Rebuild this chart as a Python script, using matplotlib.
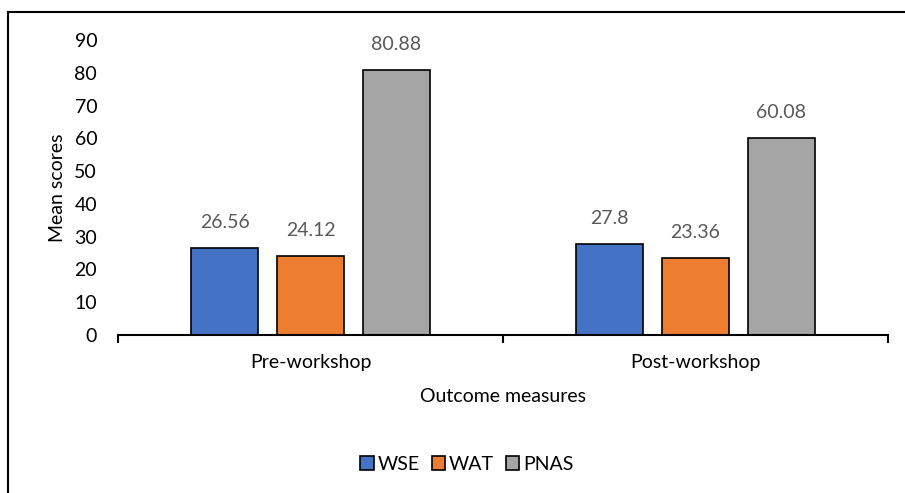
import matplotlib
matplotlib.use("Agg")
import matplotlib.pyplot as plt
import numpy as np
from matplotlib.lines import Line2D
from matplotlib.patches import Patch

categories = ["Pre-workshop", "Post-workshop"]
series = ["WSE", "WAT", "PNAS"]
wse = [26.56, 27.8]
wat = [24.12, 23.36]
pnas = [80.88, 60.08]
labels = [["26.56", "27.8"], ["24.12", "23.36"], ["80.88", "60.08"]]
colors = ["#4472C4", "#ED7D31", "#A5A5A5"]
yticks = [0, 10, 20, 30, 40, 50, 60, 70, 80, 90]

plt.rcParams['font.family'] = ['Lato', 'DejaVu Sans']
FS = 14

fig = plt.figure(figsize=(9.05, 4.93), dpi=100)
ax = fig.add_axes([118/905, 1-335/493, (888-118)/905, (335-40)/493])

x = np.arange(len(categories))
w = 0.174
step = 0.223
for i, (vals, c) in enumerate(zip([wse, wat, pnas], colors)):
    pos = x + (i-1)*step
    ax.bar(pos, vals, width=w, color=c, edgecolor="black", linewidth=1.2, label=series[i], zorder=2)
    for p, v, lab in zip(pos, vals, labels[i]):
        ax.annotate(lab, (p, v), xytext=(0, 18.5), textcoords="offset points",
                    ha="center", va="center", fontsize=FS, color="#595959")

ax.set_xlim(-0.5, 1.5)
ax.set_ylim(0, 90)
ax.set_yticks(yticks)
ax.tick_params(axis="y", length=0, labelsize=FS, pad=15, colors="black")
ax.set_xticks([-0.5, 0.5, 1.5])
ax.set_xticklabels([])
ax.tick_params(axis="x", length=6, width=1.5, direction="out", color="black")
ax.set_xticks(x, minor=True)
ax.set_xticklabels(categories, minor=True, fontsize=FS)
ax.tick_params(axis="x", which="minor", length=0, pad=14)
for s in ["top", "right", "left"]:
    ax.spines[s].set_visible(False)
ax.spines["bottom"].set_linewidth(1.5)
ax.set_ylabel("Mean scores", fontsize=FS, labelpad=6)
ax.set_xlabel("Outcome measures", fontsize=FS, labelpad=12)

handles = [Patch(facecolor=c, edgecolor="black", linewidth=1.2) for c in colors]
fig.legend(handles, series, loc="center", bbox_to_anchor=(467/905, 1-464/493), ncol=3,
           frameon=False, fontsize=FS, handlelength=0.7, handleheight=0.7,
           handletextpad=0.2, columnspacing=0.6, borderpad=0)

fig.add_artist(Line2D([8/905, 1.0], [1-12/493, 1-12/493], color="black", linewidth=1.5, transform=fig.transFigure))
fig.add_artist(Line2D([8/905, 8/905], [0, 1-12/493], color="black", linewidth=1.5, transform=fig.transFigure))

fig.savefig("out.png", dpi=100)
